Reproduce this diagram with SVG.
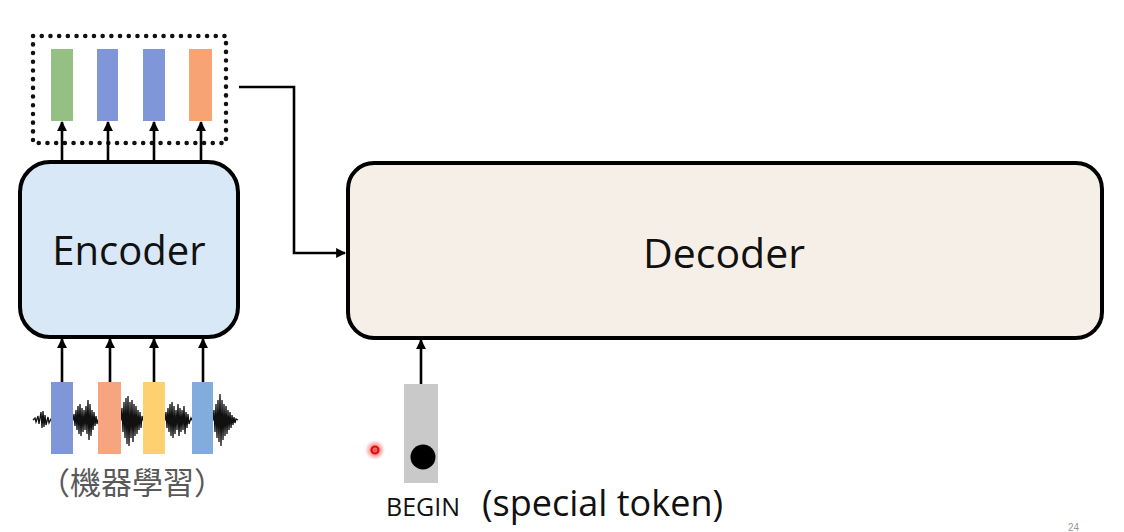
<svg xmlns="http://www.w3.org/2000/svg" width="1124" height="532" viewBox="0 0 1124 532">
<defs>
<marker id="ah" viewBox="0 0 10 10" refX="9" refY="5" markerWidth="3.8" markerHeight="3.8" orient="auto" markerUnits="strokeWidth">
<path d="M0,0 L10,5 L0,10 z" fill="#000"/>
</marker>
<radialGradient id="glow">
<stop offset="0" stop-color="#ff3030" stop-opacity="0.9"/>
<stop offset="1" stop-color="#ff3030" stop-opacity="0"/>
</radialGradient>
<style>
.box{stroke:#000;stroke-width:4}
.lbl{font-family:"Open Sans","Liberation Sans",sans-serif;fill:#111}
.conn{stroke:#000;stroke-width:2.6;fill:none}
.vec{stroke:none}
</style>
</defs>
<rect width="1124" height="532" fill="#fff"/>

<g id="encoder-output">
<rect x="33" y="36" width="193" height="107" fill="none" stroke="#111" stroke-width="4.5" stroke-dasharray="0.1 8.6" stroke-linecap="round"/>
<rect class="vec" x="51" y="49" width="22" height="72" fill="#94c083"/>
<rect class="vec" x="97" y="49" width="21" height="72" fill="#7f97d8"/>
<rect class="vec" x="143" y="49" width="22" height="72" fill="#7f97d8"/>
<rect class="vec" x="189" y="49" width="23" height="72" fill="#f7a374"/>
</g>

<g id="encoder">
<rect class="box" x="20" y="162" width="218" height="175" rx="30" fill="#d8e8f6"/>
<text class="lbl" x="129" y="265" font-size="40" text-anchor="middle">Encoder</text>
</g>

<g id="decoder">
<rect class="box" x="348" y="163" width="754" height="175" rx="26" fill="#f6efe7"/>
<text class="lbl" x="724" y="268" font-size="41" text-anchor="middle">Decoder</text>
</g>

<g id="input">
<polyline fill="none" stroke="#111" stroke-width="1.3" stroke-linejoin="miter" points="33,420 35,418 36,422 38,416 39,424 41,412 42,428 43,411 44,427 45,415 46,425 48,417 49,423 51,419 73,420 74,414 75,426 76,410 77,430 78,406 79,434 80,404 81,436 82,408 83,432 84,410 85,430 86,406 87,434 88,400 89,440 90,404 91,436 92,410 93,430 94,412 95,426 96,416 97,424 98,420 121,420 122,408 123,432 124,402 125,438 126,398 127,444 128,396 129,446 130,402 131,438 132,400 133,442 134,404 135,436 136,406 137,434 138,410 139,430 140,412 141,428 142,416 143,420 165,420 166,412 167,428 168,408 169,432 170,404 171,436 172,402 173,438 174,406 175,434 176,410 177,430 178,404 179,436 180,408 181,432 182,410 183,430 184,406 185,434 186,412 187,428 188,414 189,424 191,418 192,420 213,420 214,410 215,432 216,404 217,438 218,400 219,442 220,394 221,446 222,400 223,440 224,404 225,436 226,406 227,434 228,410 229,430 230,412 231,428 232,415 233,425 234,417 235,423 236,419 238,420"/>
<rect class="vec" x="51" y="382" width="22" height="72" fill="#7f97d8"/>
<rect class="vec" x="98" y="382" width="23" height="72" fill="#f7a57e"/>
<rect class="vec" x="143" y="382" width="22" height="72" fill="#fdd070"/>
<rect class="vec" x="192" y="382" width="21" height="72" fill="#82abde"/>
<text x="132" y="494" font-size="31" text-anchor="middle" fill="#595959" font-family="'Noto Sans CJK TC','Noto Sans CJK SC',sans-serif">（機器學習）</text>
</g>

<g id="begin">
<rect class="vec" x="404" y="384" width="34" height="99" fill="#c9c9c9"/>
<circle cx="423" cy="457" r="12.5" fill="#000"/>
<text class="lbl" x="423" y="516" font-size="25" text-anchor="middle">BEGIN</text>
<text class="lbl" x="482" y="516" font-size="36">(special token)</text>
</g>

<g id="connectors">
<line class="conn" x1="62" y1="162" x2="62" y2="122" marker-end="url(#ah)"/>
<line class="conn" x1="108" y1="162" x2="108" y2="122" marker-end="url(#ah)"/>
<line class="conn" x1="154" y1="162" x2="154" y2="122" marker-end="url(#ah)"/>
<line class="conn" x1="201" y1="162" x2="201" y2="122" marker-end="url(#ah)"/>
<line class="conn" x1="62" y1="382" x2="62" y2="339" marker-end="url(#ah)"/>
<line class="conn" x1="110" y1="382" x2="110" y2="339" marker-end="url(#ah)"/>
<line class="conn" x1="154" y1="382" x2="154" y2="339" marker-end="url(#ah)"/>
<line class="conn" x1="203" y1="382" x2="203" y2="339" marker-end="url(#ah)"/>
<line class="conn" x1="421" y1="384" x2="421" y2="340" marker-end="url(#ah)"/>
<polyline class="conn" points="239,87 294,87 294,253 345,253" marker-end="url(#ah)"/>
</g>

<circle cx="375" cy="450" r="10" fill="url(#glow)"/>
<circle cx="375" cy="450" r="3.5" fill="none" stroke="#e01010" stroke-width="2.2"/>
<text x="1068" y="531" font-size="10" fill="#999" font-family="'Liberation Sans',sans-serif">24</text>
</svg>
